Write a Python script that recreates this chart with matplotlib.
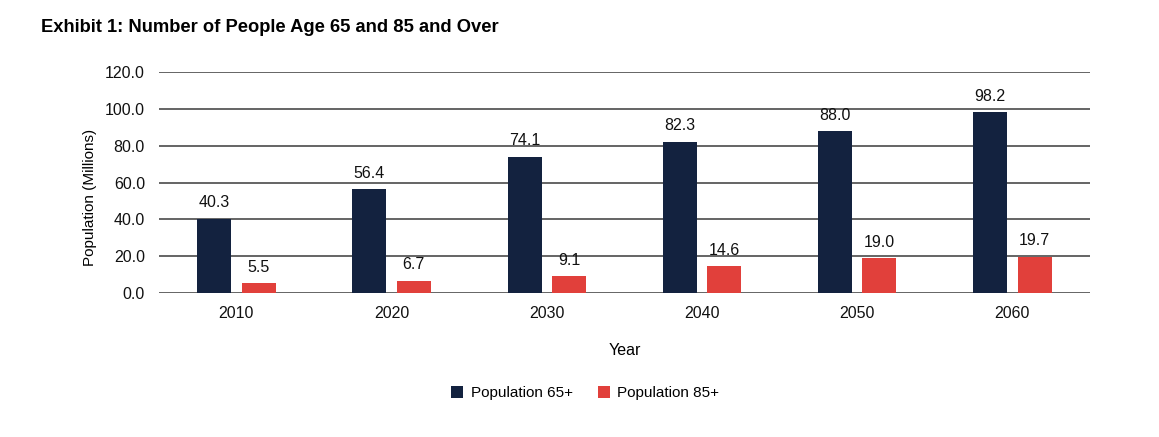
import matplotlib
matplotlib.use('Agg')
import matplotlib.pyplot as plt
import numpy as np

plt.rcParams['font.family'] = ['Liberation Sans', 'DejaVu Sans']

years = ['2010', '2020', '2030', '2040', '2050', '2060']
pop_65 = [40.3, 56.4, 74.1, 82.3, 88.0, 98.2]
pop_85 = [5.5, 6.7, 9.1, 14.6, 19.0, 19.7]

navy = '#13223F'
red = '#E1403B'

fig = plt.figure(figsize=(11.59, 4.37), dpi=100)
ax = fig.add_axes([0.137, 0.3295, 0.8035, 0.5055])

x = np.arange(len(years))
w = 0.22
b1 = ax.bar(x - 0.143, pop_65, w, color=navy, label='Population 65+', zorder=3)
b2 = ax.bar(x + 0.143, pop_85, w, color=red, label='Population 85+', zorder=3)

for bars in (b1, b2):
    for r in bars:
        ax.annotate('%.1f' % r.get_height(), (r.get_x() + r.get_width() / 2, r.get_height()),
                    xytext=(0, 6), textcoords='offset points', ha='center', va='bottom',
                    fontsize=11.5, color='#111111')

ax.set_xlim(-0.5, len(years) - 0.5)
ax.set_ylim(0, 120)
ax.set_yticks(np.arange(0, 121, 20))
ax.set_yticklabels(['%.1f' % v for v in np.arange(0, 121, 20)])
ax.set_xticks(x)
ax.set_xticklabels(years)
ax.tick_params(length=0, labelsize=11.5, colors='#111111')
ax.tick_params(axis='x', pad=9)
ax.tick_params(axis='y', pad=10)
ax.yaxis.grid(True, color='#4a4a4a', linewidth=1.2, zorder=0)
for s in ax.spines.values():
    s.set_visible(False)

ax.set_ylabel('Population (Millions)', fontsize=11, va='center')
ax.yaxis.set_label_coords(-0.074, 0.434)
ax.set_xlabel('Year', fontsize=11.5, labelpad=16)

fig.text(0.0354, 0.938, 'Exhibit 1: Number of People Age 65 and 85 and Over',
         fontsize=13.2, fontweight='bold', va='center', ha='left')

fig.legend(loc='center', bbox_to_anchor=(0.505, 0.1), ncol=2, frameon=False,
           fontsize=11, handlelength=0.8, handleheight=0.8, columnspacing=1.6, handletextpad=0.5)

plt.savefig('out.png', dpi=100)
